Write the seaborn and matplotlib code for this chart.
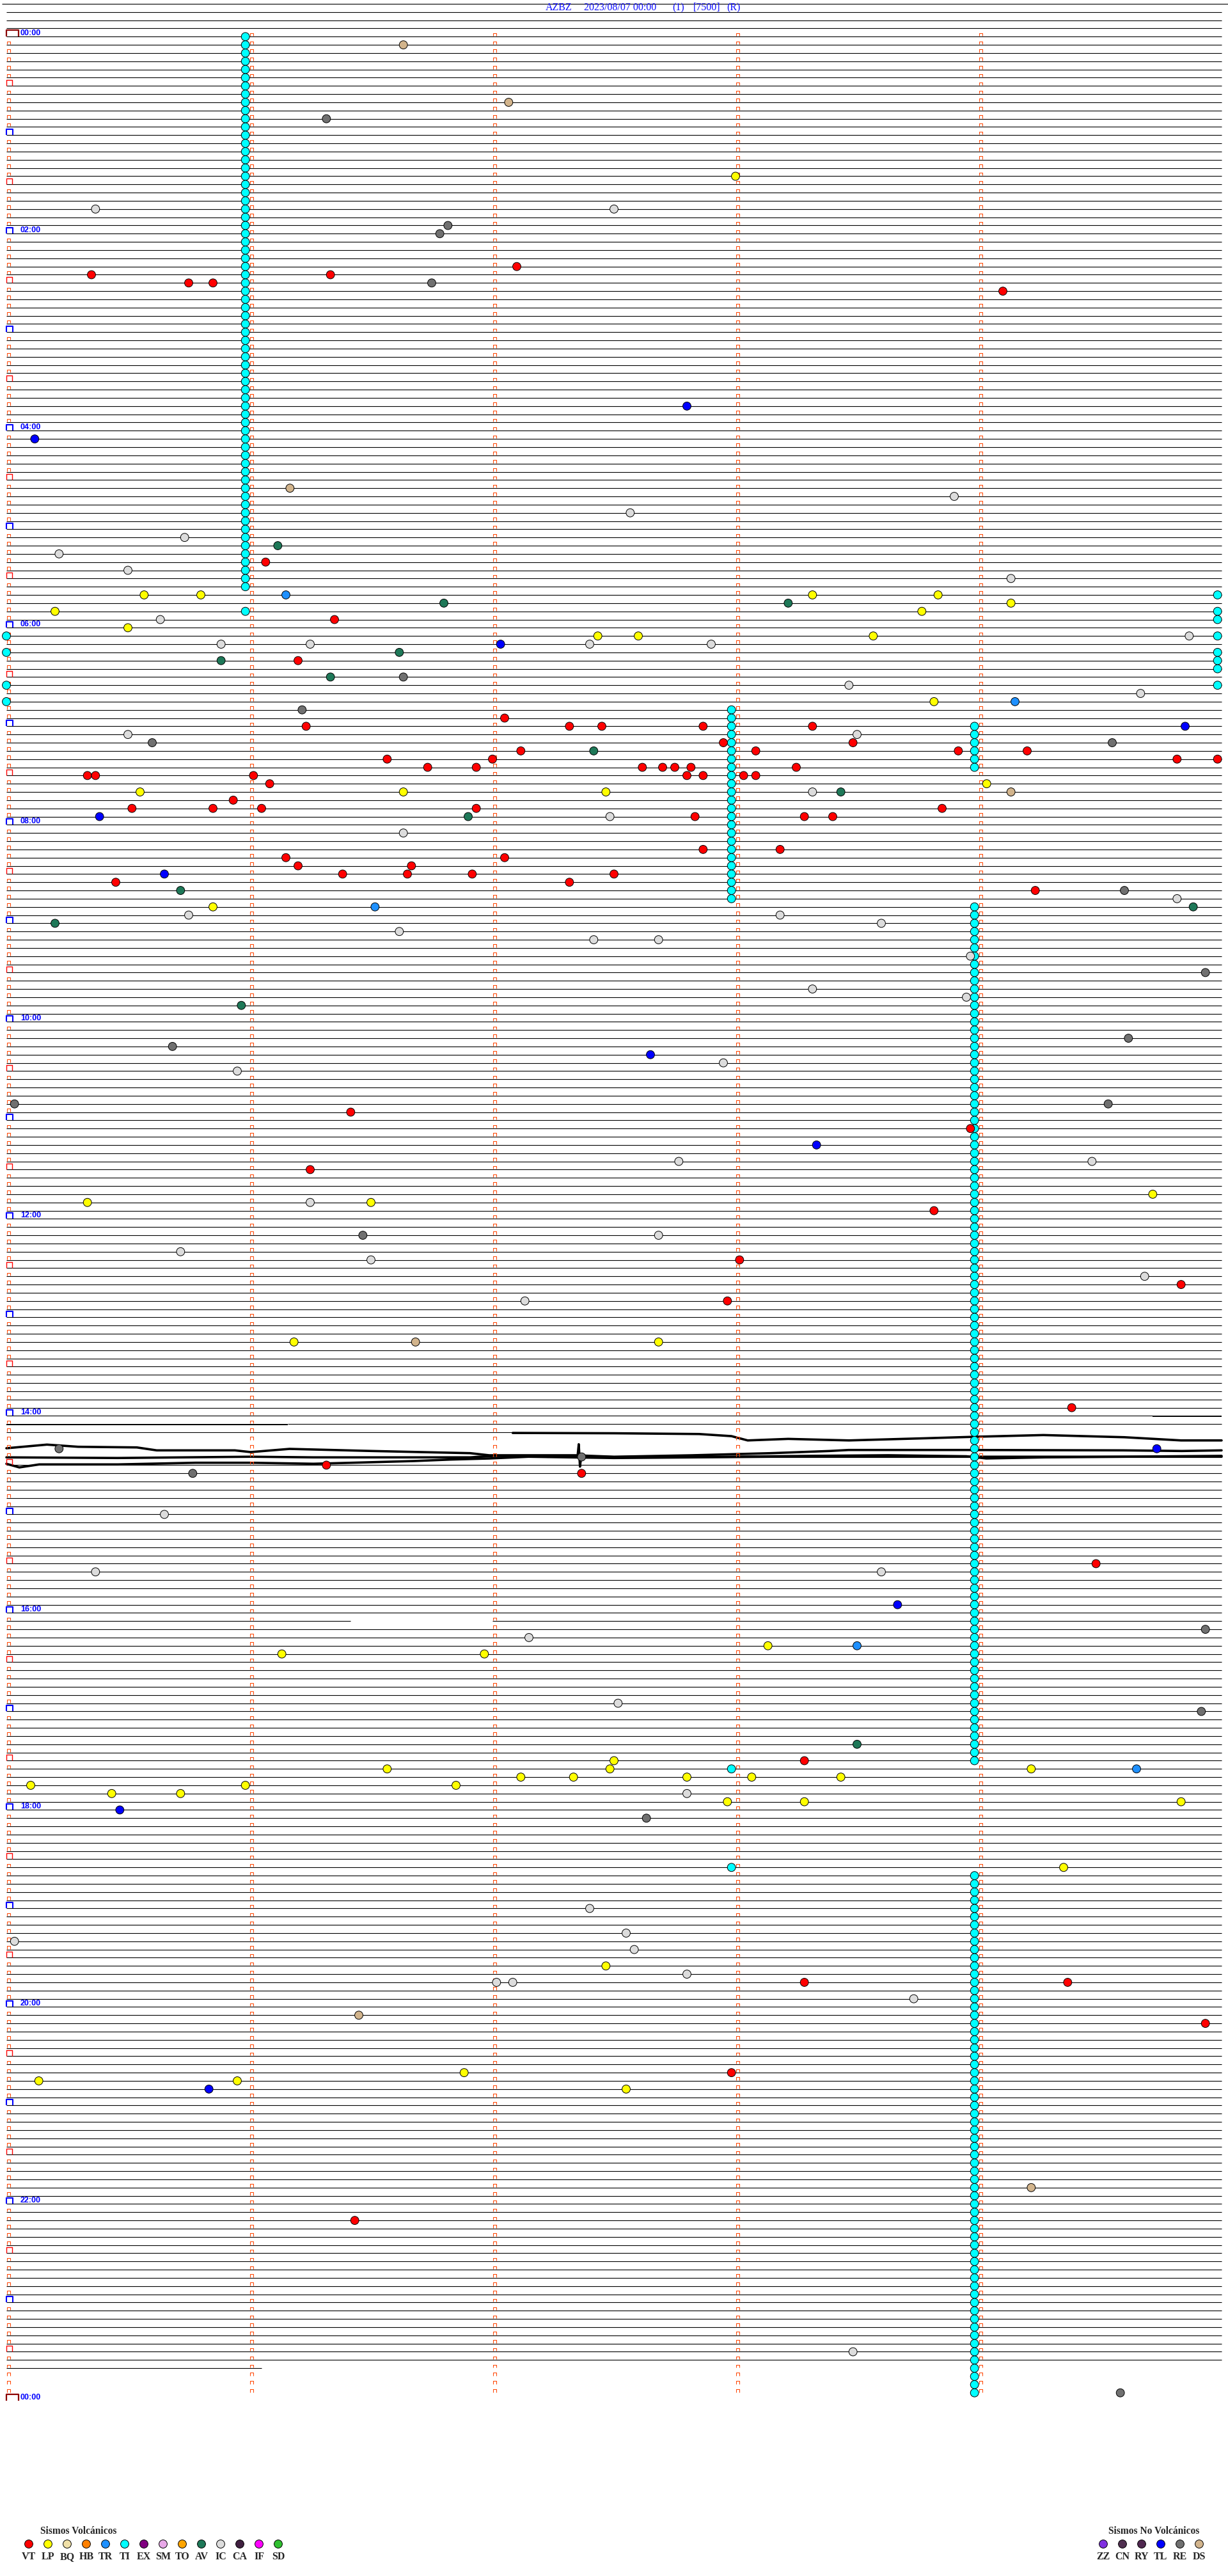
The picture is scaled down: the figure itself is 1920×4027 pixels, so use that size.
import numpy as np
import pandas as pd
import matplotlib
matplotlib.use("Agg")
import matplotlib.pyplot as plt
import seaborn as sns
from matplotlib.collections import LineCollection

sns.set_style("white")
plt.rcParams['font.family'] = ['Liberation Serif', 'DejaVu Sans']

# ---------------- datos ----------------
estacion = "AZBZ"
fecha = "2023/08/07 00:00"

tipos_volc = ['VT', 'LP', 'BQ', 'HB', 'TR', 'TI', 'EX', 'SM', 'TO', 'AV', 'IC', 'CA', 'IF', 'SD']
colores_volc = ['#FF0000', '#FFFF00', '#F0E0A8', '#FF8000', '#1E90FF', '#00FFFF', '#800080',
                '#E8A8E8', '#FFA500', '#1E7858', '#DCDCDC', '#402040', '#FF00FF', '#30C030']
tipos_no = ['ZZ', 'CN', 'RY', 'TL', 'RE', 'DS']
colores_no = ['#8030E0', '#503050', '#502850', '#0000FF', '#707070', '#D2B48C']

vt_horas = ['02:22:06', '02:25:21', '02:26:20', '02:30:45', '02:30:51', '02:39:06', '05:21:04',
            '05:56:21', '06:21:12', '06:57:03', '07:01:14', '07:02:19', '07:02:27', '07:02:52',
            '07:03:19', '07:12:57', '07:13:29', '07:17:07', '07:18:05', '07:18:55', '07:19:12',
            '07:21:34', '07:22:00', '07:24:49', '07:24:59', '07:26:44', '07:26:56', '07:27:37',
            '07:27:42', '07:27:45', '07:27:49', '07:28:15', '07:30:20', '07:30:22', '07:31:01',
            '07:32:48', '07:32:52', '07:33:02', '07:33:05', '07:36:05', '07:45:56', '07:50:31',
            '07:50:51', '07:51:03', '07:51:56', '07:53:51', '07:57:50', '07:58:17', '07:58:24',
            '08:17:52', '08:18:11', '08:21:09', '08:22:03', '08:26:12', '08:26:40', '08:31:23',
            '08:31:39', '08:31:55', '08:32:30', '08:35:27', '08:37:19', '08:44:14', '10:56:25',
            '11:08:58', '11:31:15', '11:58:49', '12:28:01', '12:44:50', '12:52:58', '13:59:23',
            '14:31:19', '14:37:22', '15:34:29', '17:33:17', '19:48:17', '19:49:22', '20:14:56',
            '20:42:59', '22:11:26']
lp_horas = ['01:28:00', '05:40:34', '05:40:48', '05:43:19', '05:43:50', '05:49:08', '05:50:12',
            '05:53:46', '06:00:30', '06:07:26', '06:07:36', '06:08:34', '06:48:49', '07:39:02',
            '07:40:33', '07:41:38', '07:42:28', '08:50:51', '11:49:43', '11:50:20', '11:51:30',
            '13:16:11', '13:17:41', '16:23:08', '16:26:08', '16:26:58', '17:32:30', '17:36:34',
            '17:37:29', '17:39:13', '17:42:07', '17:42:20', '17:42:48', '17:43:04', '17:43:26',
            '17:45:06', '17:45:59', '17:46:51', '17:50:26', '17:50:43', '17:57:58', '17:58:17',
            '17:59:50', '18:39:21', '19:37:28', '20:41:53', '20:45:08', '20:45:57', '20:52:33']
tr_horas = ['05:41:09', '06:49:09', '08:51:31', '16:23:30', '17:39:39']
ti_horas = ['05:44:59', '05:50:59', '05:54:59', '05:59:59', '06:05:00', '06:09:59', '06:15:00',
            '06:19:59', '06:24:59', '06:29:59', '06:35:00', '06:39:59', '06:45:00', '17:37:59',
            '18:37:59']
av_horas = ['05:11:07', '05:46:48', '05:48:13', '06:16:37', '06:20:53', '06:31:20', '07:17:25',
            '07:43:26', '07:56:54', '08:40:43', '08:54:53', '09:00:12', '09:50:58', '17:23:30']
ic_horas = ['01:45:22', '01:47:30', '04:43:54', '04:52:34', '05:05:44', '05:15:13', '05:25:30',
            '05:34:08', '05:55:38', '06:09:52', '06:10:53', '06:11:15', '06:12:24', '06:12:54',
            '06:38:28', '06:44:40', '07:05:30', '07:08:30', '07:43:19', '07:57:29', '08:06:38',
            '08:49:49', '08:55:45', '08:58:11', '09:03:36', '09:06:37', '09:12:25', '09:12:41',
            '09:23:58', '09:43:19', '09:48:57', '10:27:57', '10:30:57', '11:27:46', '11:29:28',
            '11:51:15', '12:12:41', '12:20:43', '12:26:30', '12:39:41', '12:52:08', '15:00:39',
            '15:35:22', '15:38:36', '16:17:09', '16:57:31', '17:52:48', '19:02:24', '19:17:33',
            '19:20:02', '19:27:35', '19:42:48', '19:47:01', '19:47:05', '19:58:44', '23:33:29']
tl_horas = ['03:47:48', '04:05:07', '06:12:02', '07:04:51', '07:55:23', '08:30:39', '10:22:39',
            '11:18:20', '14:24:44', '15:58:40', '18:00:28', '20:50:50']
re_horas = ['00:51:19', '01:56:49', '02:01:47', '02:31:45', '06:31:38', '06:51:13', '07:10:36',
            '07:14:33', '08:44:36', '09:34:56', '10:14:37', '10:15:41', '10:50:02', '10:54:32',
            '12:11:28', '14:20:13', '14:27:22', '14:35:46', '16:14:56', '17:04:55', '18:07:38',
            '23:59:35']
ds_horas = ['00:06:38', '00:42:04', '04:36:10', '07:44:08', '13:16:41', '20:06:27', '21:54:13']

# tremor (TI) continuo: una detección por renglón de 5 min
ti_linea_ini = [0, 82, 84, 106, 224]
ti_linea_fin = [67, 105, 89, 210, 287]
ti_segundo = [59, 179, 239, 239, 239]

# trazas con ruido (14:10 - 14:30): segundo dentro del renglón, desplazamiento en px
traza_170_seg = [125, 150, 171, 179, 183, 193, 208, 227, 239, 256, 276, 290, 300]
traza_170_off = [1, 1.5, 2.7, 6, 12.7, 10.3, 12.7, 9.3, 7, 4.3, 7.7, 12.7, 12.7]
traza_171_seg = [0, 10, 17.7, 32.2, 37.1, 56.4, 60.3, 69.9, 90.3, 114.5, 119.2, 140.5, 150,
                 169.3, 188.7, 203.2, 207.9, 237, 275.7, 290.2, 300]
traza_171_off = [12.1, 6.4, 9.8, 10.8, 15.4, 15.4, 18.1, 13.1, 16.4, 19.8, 23.1, 23.1, 25.4,
                 23.1, 19.8, 16.4, 14.8, 14.8, 15.4, 16.4, 15.4]
traza_172_seg = [0, 27.5, 60.3, 75.8, 114.5, 120.3, 133.7, 141, 141.3, 141.6, 141.9, 150, 179,
                 198.3, 217.7, 237, 241.9, 256.4, 275.7, 300]
traza_172_off = [13.5, 14.5, 12.5, 13.5, 13.5, 11.2, 12.5, 12, -7, 28, 12, 13, 12.5, 11.2, 10.2,
                 11.8, 15.2, 13.5, 12.5, 11.2]
traza_173_seg = [0, 3.2, 8.1, 27.5, 46.7, 60.3, 75.8, 85.4, 100.7, 109.6, 119.2, 128.9, 150,
                 188.7, 300]
traza_173_off = [10.7, 16.4, 11.7, 11.7, 9.1, 9.1, 10.7, 9.1, 6.4, 4.1, 2.4, -0.3, 1.7, -0.3, -0.3]

ultima_linea = 284          # renglón incompleto
fin_ultima_seg = 63
hueco_linea, hueco_ini, hueco_fin = 193, 85, 120

# ---------------- geometria ----------------
W, H = 1920, 4027
X0, X1 = 10, 1910        # px de seg 0 y 300
Y0, DY = 57.3, 12.834    # px del renglon 0 y separacion
sx = 300 / (X1 - X0)


def px_x(p):
    return p * sx


def px_y(p):
    return p / DY


fig = plt.figure(figsize=(W / 100, H / 100), dpi=100)
ax = fig.add_axes([0, 0, 1, 1])
ax.set_xlim(-X0 * sx, (W - X0) * sx)
ax.set_ylim((H - Y0) / DY, -Y0 / DY)
ax.axis('off')

# ---------------- trazas ----------------
lw_traza = 0.8
ax.hlines(-4, -7 * sx, (W - X0) * sx, color='black', lw=lw_traza)
ruidosas = {168, 169, 170, 171, 172, 173, hueco_linea}
planas = [i for i in range(-3, ultima_linea) if i not in ruidosas]
ax.hlines(planas, 0, 300, color='black', lw=lw_traza)
ax.hlines(ultima_linea, 0, fin_ultima_seg, color='black', lw=lw_traza)
ax.hlines([hueco_linea, hueco_linea], [0, hueco_fin], [hueco_ini, 300], color='black', lw=lw_traza)

# renglones con ruido
ax.hlines(168, 0, 283, color='black', lw=lw_traza)
ax.hlines(168 + px_y(1), 283, 300, color='black', lw=1.4)
ax.hlines(169 + px_y(1), 0, 69.5, color='black', lw=1.4)
ax.hlines(169, 69.5, 300, color='black', lw=lw_traza)
ax.hlines(170, 0, 125, color='black', lw=lw_traza)
for linea, segs, offs in [(170, traza_170_seg, traza_170_off),
                          (171, traza_171_seg, traza_171_off),
                          (172, traza_172_seg, traza_172_off),
                          (173, traza_173_seg, traza_173_off)]:
    ax.plot(segs, linea + np.array(offs) / DY, color='black', lw=2.6, solid_joinstyle='round')

# ---------------- marcas de tiempo ----------------
def corchete(xl, xr, yb, alto):
    return [(px_x(xl), yb), (px_x(xl), yb - px_y(alto)), (px_x(xr), yb - px_y(alto)), (px_x(xr), yb)]


grupos = {'chico': [], 'media': [], 'hora': [], 'dia': []}
for i in range(0, 289):
    if i % 288 == 0:
        grupos['dia'].append(corchete(0, 19, i, 10.6))
    elif i % 12 == 0:
        grupos['hora'].append(corchete(0, 10.4, i, 9))
    elif i % 6 == 0:
        grupos['media'].append(corchete(0.3, 8.7, i, 9))
    else:
        grupos['chico'].append(corchete(0.7, 5.7, i - px_y(1), 4.6))
    if i < 288:
        for m in range(1, 5):
            grupos['chico'].append(corchete(380 * m + 0.7, 380 * m + 5.7, i - px_y(1), 4.6))

estilo = {'chico': ('#FF4500', 0.75), 'media': ('#FF0000', 1.0),
          'hora': ('#0000FF', 1.5), 'dia': ('#8B0000', 1.6)}
for k, segs in grupos.items():
    col, lw = estilo[k]
    ax.add_collection(LineCollection(segs, colors=col, linewidths=lw, capstyle='butt', zorder=3))

for i in range(0, 289, 24):
    hh = (i * 5 // 60) % 24
    ax.text(px_x(22), i - px_y(5.6), f"{hh:02d}:00", color='#0000FF', fontsize=9,
            fontweight='bold', family=['Liberation Sans', 'DejaVu Sans'], va='center', ha='left')

# ---------------- eventos ----------------
def a_seg(h):
    hh, mm, ss = map(int, h.split(':'))
    return hh * 3600 + mm * 60 + ss


filas = []
for a, b, s in zip(ti_linea_ini, ti_linea_fin, ti_segundo):
    for ln in range(a, b + 1):
        filas.append(('TI', ln, s))
for tipo, horas in [('TI', ti_horas), ('IC', ic_horas), ('AV', av_horas), ('LP', lp_horas),
                    ('TR', tr_horas), ('RE', re_horas), ('DS', ds_horas), ('TL', tl_horas),
                    ('VT', vt_horas)]:
    for h in horas:
        t = a_seg(h)
        filas.append((tipo, t // 300, t % 300))
eventos = pd.DataFrame(filas, columns=['tipo', 'linea', 'seg'])

paleta = dict(zip(tipos_volc + tipos_no, colores_volc + colores_no))
sns.scatterplot(data=eventos, x='seg', y='linea', hue='tipo', palette=paleta, s=85,
                edgecolor='black', linewidth=0.7, legend=False, ax=ax, zorder=5)
ax.set_xlim(-X0 * sx, (W - X0) * sx)
ax.set_ylim((H - Y0) / DY, -Y0 / DY)
ax.axis('off')

# ---------------- titulo y leyenda ----------------
lay = fig.add_axes([0, 0, 1, 1], facecolor='none')
lay.set_xlim(0, W)
lay.set_ylim(H, 0)
lay.axis('off')

azul = '#1010FF'
for x, txt in [(853, estacion), (913, fecha), (1051, "(1)"), (1084, "[7500]"), (1136, "(R)")]:
    lay.text(x, 12.5, txt, color=azul, fontsize=11.5, va='center', ha='left')

lay.text(63, 3957, "Sismos Volcánicos", fontsize=11.2, fontweight='bold', va='center', ha='left')
lay.text(1733, 3957, "Sismos No Volcánicos", fontsize=11.2, fontweight='bold', va='center', ha='left')
xv = 45 + 30 * np.arange(len(tipos_volc))
xn = 1725 + 30 * np.arange(len(tipos_no))
lay.scatter(xv, np.full(len(xv), 3977), s=85, c=colores_volc, edgecolors='black', linewidths=0.7)
lay.scatter(xn, np.full(len(xn), 3977), s=85, c=colores_no, edgecolors='black', linewidths=0.7)
for x, t in zip(list(xv) + list(xn), tipos_volc + tipos_no):
    lay.text(x, 3997, t, fontsize=11.5, fontweight='bold', va='center', ha='center')

fig.savefig("out.png", dpi=100, facecolor='white')
